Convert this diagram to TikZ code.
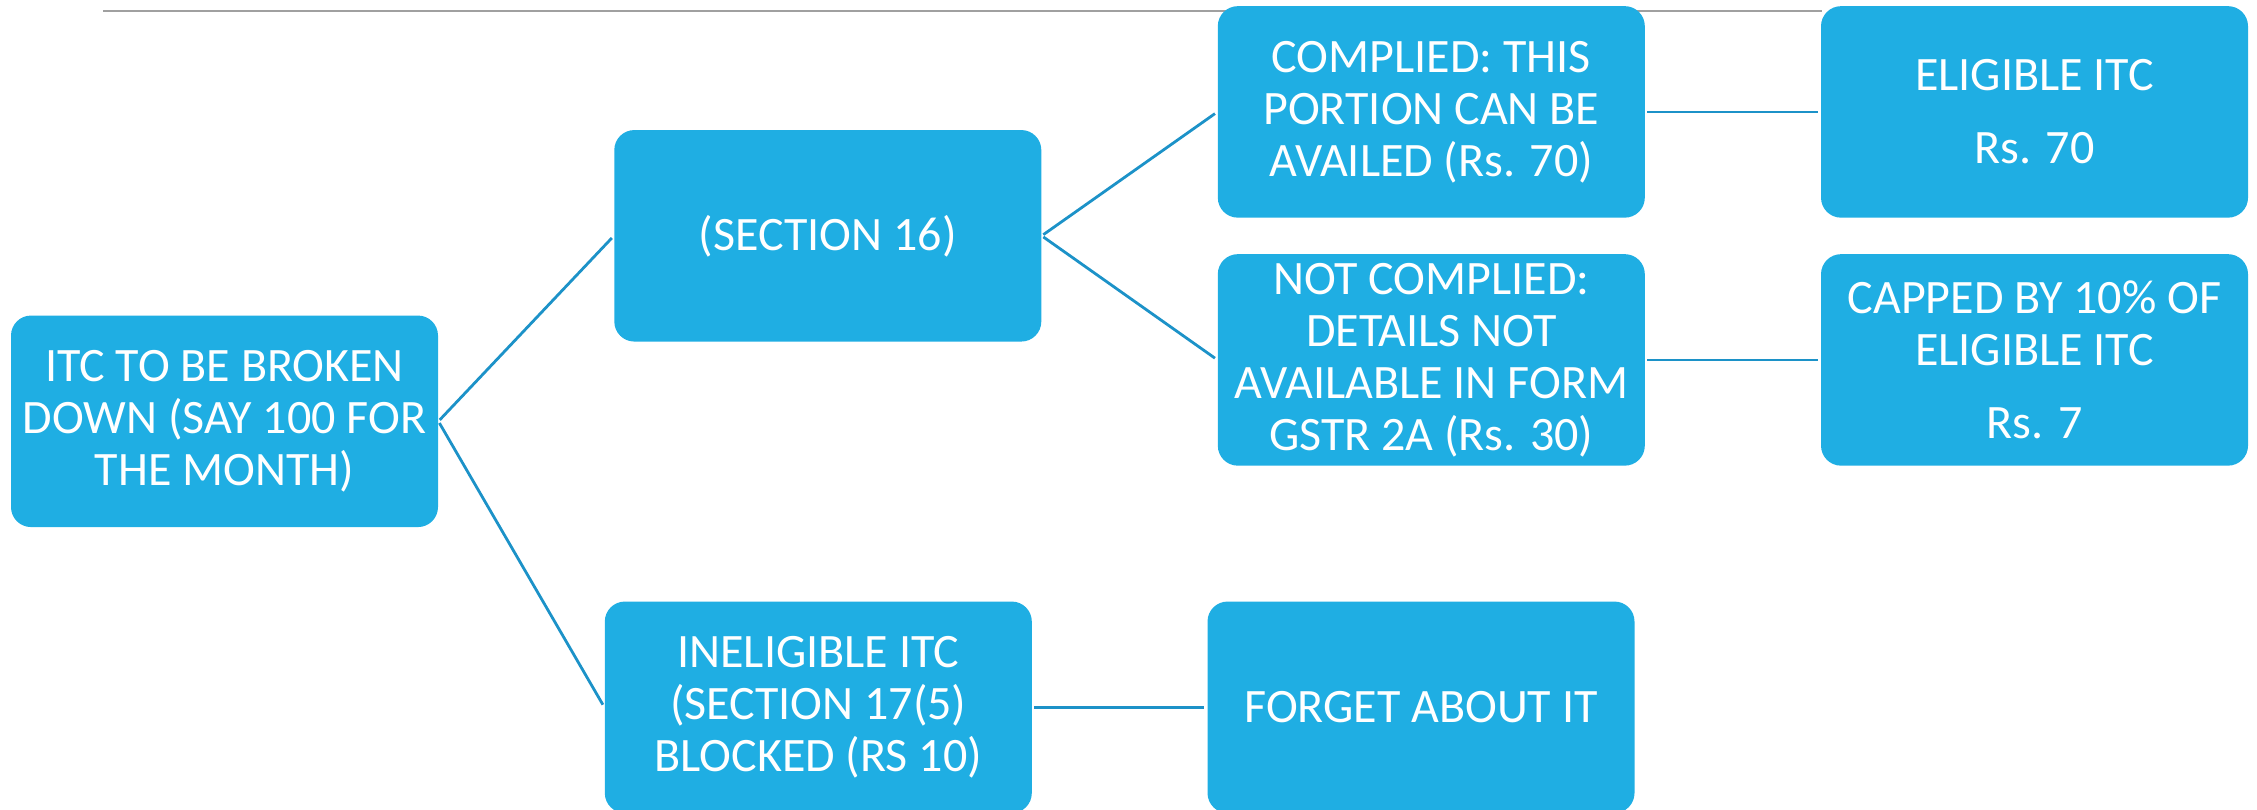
\documentclass[tikz,border=0pt]{standalone}
\usepackage{fontspec}
\setmainfont{Carlito}
\definecolor{boxblue}{RGB}{31,174,227}
\definecolor{lineblue}{RGB}{28,146,200}
\definecolor{rulegray}{RGB}{160,160,160}
\begin{document}
\begin{tikzpicture}[x=0.5pt,y=-0.5pt,
  box/.style={rectangle, rounded corners=10pt, fill=boxblue, text=white,
    minimum width=213.5pt, minimum height=105.75pt, inner sep=0pt,
    align=center, font=\fontsize{24}{26}\selectfont},
  link/.style={draw=lineblue, line width=1.4pt, shorten <=1pt, shorten >=1.5pt}]
\useasboundingbox (0,0) rectangle (2257,809);
\clip (0,0) rectangle (2257,809);

% thin rule across the top
\coordinate (ruleL) at (103,10.7);
\coordinate (ruleR) at (1822,10.7);
\draw[rulegray, line width=1pt] (ruleL) -- (ruleR);

% boxes
\node[box] (root)   at (224.5,421.3) {ITC TO BE BROKEN\\DOWN (SAY 100 FOR\\THE MONTH)};
\node[box] (sec)    at (827.8,235.8) {(SECTION 16)};
\node[box] (comp)   at (1431.3,111.9) {COMPLIED: THIS\\PORTION CAN BE\\AVAILED (Rs. 70)};
\node[box] (notc)   at (1431.3,359.9) {NOT COMPLIED:\\DETAILS NOT\\AVAILABLE IN FORM\\GSTR 2A (Rs. 30)};
\node[box] (elig)   at (2034.5,111.9) {ELIGIBLE ITC\\[10.5pt]Rs. 70};
\node[box] (cap)    at (2034.5,359.9) {CAPPED BY 10\% OF\\ELIGIBLE ITC\\[10.5pt]Rs. 7};
\node[box] (inel)   at (818.3,707.3) {INELIGIBLE ITC\\(SECTION 17(5)\\BLOCKED (RS 10)};
\node[box] (forget) at (1421.0,707.3) {FORGET ABOUT IT};

% connectors
\draw[link] (root.east) -- (sec.west);
\draw[link] (root.east) -- (inel.west);
\draw[link] (sec.east) -- (comp.west);
\draw[link] (sec.east) -- (notc.west);
\draw[link] (comp.east) -- (elig.west);
\draw[link] (notc.east) -- (cap.west);
\draw[link] (inel.east) -- (forget.west);
\end{tikzpicture}
\end{document}
